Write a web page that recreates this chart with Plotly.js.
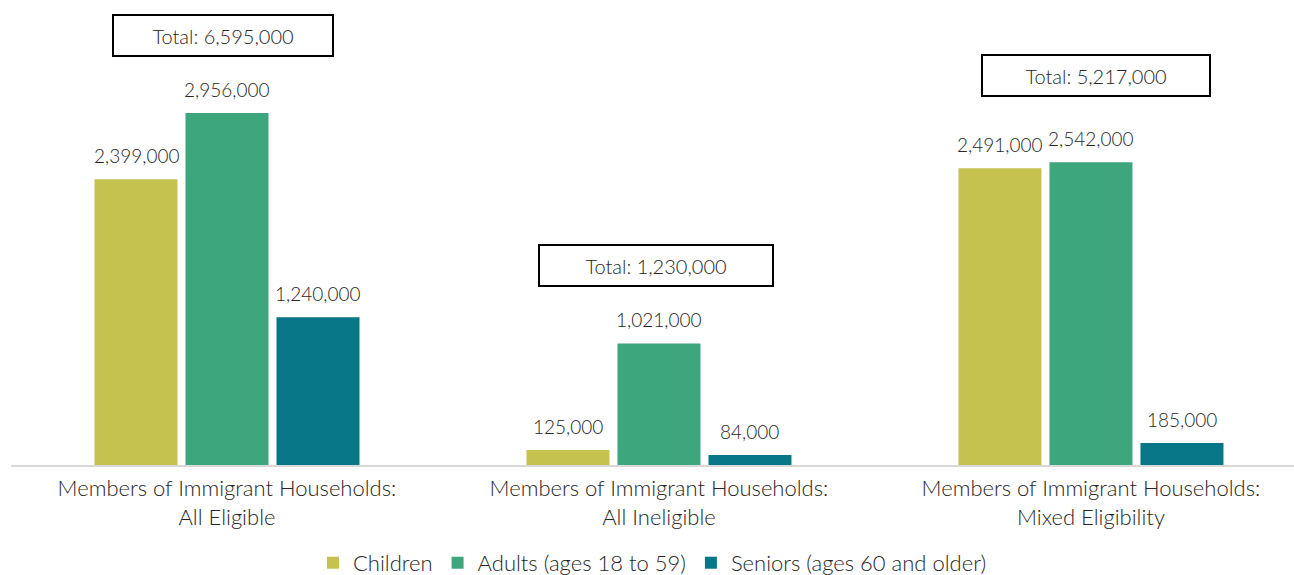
<!DOCTYPE html>
<html>
<head>
<meta charset="utf-8">
<script src="https://cdn.plot.ly/plotly-3.0.1.min.js"></script>
<style>html,body{margin:0;padding:0;background:#fff;}#chart{width:1294px;height:575px;}</style>
</head>
<body>
<div id="chart"></div>
<script>
const categories = [
  "Members of Immigrant Households:<br>All Eligible",
  "Members of Immigrant Households:<br>All Ineligible",
  "Members of Immigrant Households:<br>Mixed Eligibility"
];
const seriesNames = ["Children", "Adults (ages 18 to 59)", "Seniors (ages 60 and older)"];
const children = [2399000, 125000, 2491000];
const adults = [2956000, 1021000, 2542000];
const seniors = [1240000, 84000, 185000];
const totals = [6595000, 1230000, 5217000];
const colors = ["#C5C250", "#3EA67C", "#077787"];

const FONT = "Lato, 'Open Sans', sans-serif";
const TXT = "#262626";
const fmt = v => v.toLocaleString("en-US");

// layout-only tweaks for the total boxes (pixels)
const boxStyle = [
  {dx: -4, dy: 56, w: 216},
  {dx: -3, dy: 56, w: 230},
  {dx: 5, dy: 65, w: 224}
];

const seriesVals = [children, adults, seniors];
const traces = seriesVals.map((vals, i) => ({
  type: "bar",
  name: seriesNames[i],
  x: categories,
  y: vals,
  marker: {color: colors[i]},
  hoverinfo: "skip"
}));

const annotations = [];
const offs = [-1, 0, 1];
seriesVals.forEach((vals, i) => {
  vals.forEach((v, j) => {
    annotations.push({
      x: j + offs[i] * 0.2106, xref: "x", y: v, yref: "y",
      text: fmt(v), showarrow: false, yanchor: "bottom", yshift: 10,
      font: {family: FONT, size: 19, color: TXT, weight: 300}
    });
  });
});
totals.forEach((t, j) => {
  const top = Math.max(children[j], adults[j], seniors[j]);
  const s = boxStyle[j];
  annotations.push({
    x: j, xref: "x", y: top, yref: "y",
    text: "Total: " + fmt(t), showarrow: false, yanchor: "bottom",
    yshift: s.dy, xshift: s.dx,
    width: s.w, height: 37, borderpad: 1, bordercolor: "#000", borderwidth: 2,
    bgcolor: "#fff",
    font: {family: FONT, size: 20, color: TXT, weight: 300}
  });
});

const layout = {
  width: 1294, height: 575,
  margin: {l: 11, r: 0, t: 0, b: 110},
  paper_bgcolor: "#fff", plot_bgcolor: "#fff",
  barmode: "group",
  bargap: 0.368,
  bargroupgap: 0.088,
  font: {family: FONT, size: 22, color: TXT, weight: 300},
  xaxis: {
    type: "category",
    range: [-0.5, 2.47],
    automargin: false,
    showline: true, linecolor: "#D9D9D9", linewidth: 2,
    ticks: "", showgrid: false,
    ticklabelstandoff: 3,
    tickfont: {family: FONT, size: 22, color: TXT, weight: 300}
  },
  yaxis: {
    range: [0, 3904000], visible: false, showgrid: false, zeroline: false, automargin: false
  },
  showlegend: true,
  legend: {
    orientation: "h", x: 0.5, xanchor: "center", xref: "paper",
    y: 0.021, yref: "container", yanchor: "middle",
    font: {family: FONT, size: 22, color: TXT, weight: 300},
    itemwidth: 30, tracegroupgap: 0
  },
  annotations: annotations
};

Plotly.newPlot("chart", traces, layout, {staticPlot: true, displayModeBar: false});
</script>
</body>
</html>
